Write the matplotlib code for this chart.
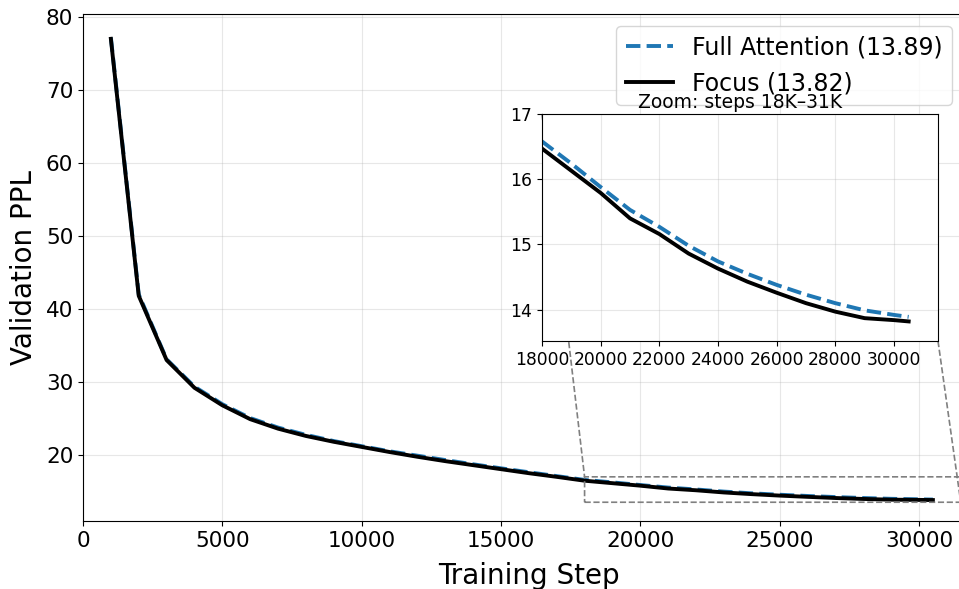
import numpy as np
import matplotlib
matplotlib.use("Agg")
import matplotlib.pyplot as plt

# validation perplexity
steps = [1000, 2000, 3000, 4000, 5000, 6000, 7000, 8000, 9000, 10000,
         11000, 12000, 13000, 14000, 15000, 16000, 17000, 18000, 19000, 20000,
         21000, 22000, 23000, 24000, 25000, 26000, 27000, 28000, 29000, 30000, 30500]
full_ppl = [77.2, 42.0, 33.1, 29.35, 26.95, 25.05, 23.75, 22.75, 21.9, 21.2,
            20.5, 19.9, 19.3, 18.72, 18.17, 17.63, 17.1, 16.58, 16.24, 15.88,
            15.53, 15.27, 14.98, 14.74, 14.55, 14.38, 14.23, 14.10, 13.99, 13.92, 13.89]
focus_ppl = [77.0, 41.8, 33.0, 29.2, 26.8, 24.9, 23.6, 22.6, 21.8, 21.1,
             20.4, 19.75, 19.15, 18.6, 18.05, 17.5, 17.0, 16.47, 16.13, 15.79,
             15.40, 15.16, 14.86, 14.63, 14.43, 14.26, 14.10, 13.97, 13.87, 13.84, 13.82]

fig = plt.figure(figsize=(9.59, 5.89), dpi=100)
ax = fig.add_axes([83 / 959, 68 / 589, 891 / 959, 507 / 589])

ax.plot(steps, full_ppl, color='#1f77b4', linestyle='--', linewidth=2.8,
        label='Full Attention (13.89)')
ax.plot(steps, focus_ppl, color='black', linewidth=2.8, label='Focus (13.82)')
ax.set_xlim(0, 31975)
ax.set_ylim(10.95, 80.4)
ax.set_xlabel('Training Step', fontsize=20, labelpad=8)
ax.set_ylabel('Validation PPL', fontsize=20, labelpad=6)
ax.tick_params(labelsize=15.5)
ax.grid(True, alpha=0.3)
ax.legend(loc='upper right', bbox_to_anchor=(952 / 959, 1 - 26 / 589),
          bbox_transform=fig.transFigure, borderaxespad=0, fontsize=17)

# zoomed inset
axins = fig.add_axes([542 / 959, 248 / 589, 396 / 959, 227 / 589])
axins.plot(steps, full_ppl, color='#1f77b4', linestyle='--', linewidth=2.8)
axins.plot(steps, focus_ppl, color='black', linewidth=2.8)
axins.set_xlim(18000, 31500)
axins.set_ylim(13.52, 17.0)
axins.set_xticks([18000, 20000, 22000, 24000, 26000, 28000, 30000])
axins.set_yticks([14, 15, 16, 17])
axins.tick_params(labelsize=12.3)
axins.grid(True, alpha=0.3)
axins.set_title('Zoom: steps 18K\u201331K', fontsize=13.5, pad=4)

ax.indicate_inset_zoom(axins, edgecolor='gray', linestyle='--', linewidth=1.2, alpha=1.0)

fig.savefig('out.png', dpi=100)
